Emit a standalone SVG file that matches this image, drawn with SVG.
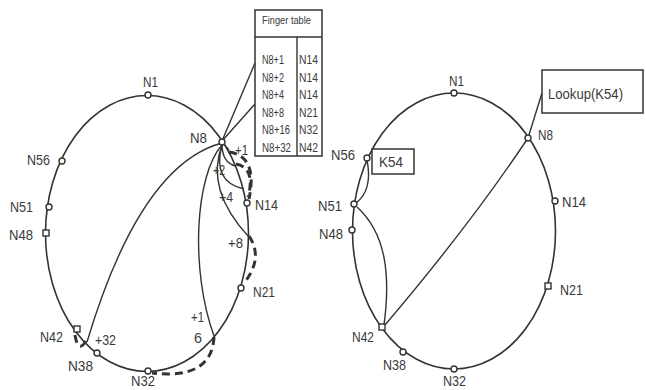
<svg xmlns="http://www.w3.org/2000/svg" width="646" height="390" viewBox="0 0 646 390">
<style>
.ring{fill:none;stroke:#333;stroke-width:1.6}
.ch{fill:none;stroke:#333;stroke-width:1.4}
.dash{fill:none;stroke:#333;stroke-width:3;stroke-dasharray:8 5}
.mk{fill:#fff;stroke:#333;stroke-width:1.4}
.lbl{font-family:"Liberation Sans",Arial,sans-serif;font-size:15px;fill:#3a3a3a}
.tt{font-family:"Liberation Sans",Arial,sans-serif;font-size:12px;fill:#3a3a3a}
.th{font-family:"Liberation Sans",Arial,sans-serif;font-size:10px;fill:#3a3a3a}
.box{fill:#fff;stroke:#333;stroke-width:1.5}
</style>
<rect width="646" height="390" fill="#fff"/>
<g id="rings">
<ellipse class="ring" cx="147" cy="233.5" rx="101.5" ry="138"/>
<ellipse class="ring" cx="454" cy="231" rx="101.5" ry="138"/>
</g>
<g id="connectors">
<line class="ch" x1="222" y1="141" x2="255" y2="63"/>
<line class="ch" x1="222" y1="141" x2="255" y2="104"/>
<path class="ch" d="M222,143 Q140,165 87,342"/>
<path class="ch" d="M222,145 C195,175 190,270 214,336"/>
<path class="ch" d="M222,145 Q205,190 249,237"/>
<path class="ch" d="M222,145 Q212,182 244,189"/>
<path class="ch" d="M222,144 Q222,163 236,166"/>
<path class="ch" d="M222,142 L229,150"/>
<path class="dash" d="M229,152 Q258,156 249,199"/>
<path class="dash" d="M236,164 Q256,168 248,197"/>
<path class="dash" d="M249,236 Q264,258 244,283"/>
<path class="dash" d="M214,337 Q212,380 152,373"/>
<path class="dash" stroke-dasharray="6 3" d="M86,341 Q78,354 75,335"/>
<line class="ch" x1="542" y1="93" x2="528" y2="138"/>
<path class="ch" d="M528,138 Q470,225 385,325"/>
<path class="ch" d="M384,325 C390,280 388,235 357,207"/>
<path class="ch" d="M356,203 Q373,190 367,160"/>
</g>
<g id="finger-table">
<rect class="box" x="255" y="10" width="67" height="146"/>
<line class="ch" x1="255" y1="37" x2="322" y2="37"/>
<line class="ch" x1="297" y1="37" x2="297" y2="156"/>
<text class="th" x="262" y="24" textLength="49" lengthAdjust="spacingAndGlyphs">Finger table</text>
<text class="tt" x="262" y="64" textLength="22" lengthAdjust="spacingAndGlyphs">N8+1</text>
<text class="tt" x="262" y="81.5" textLength="22" lengthAdjust="spacingAndGlyphs">N8+2</text>
<text class="tt" x="262" y="99" textLength="22" lengthAdjust="spacingAndGlyphs">N8+4</text>
<text class="tt" x="262" y="116.5" textLength="22" lengthAdjust="spacingAndGlyphs">N8+8</text>
<text class="tt" x="262" y="134" textLength="28" lengthAdjust="spacingAndGlyphs">N8+16</text>
<text class="tt" x="262" y="151.5" textLength="29" lengthAdjust="spacingAndGlyphs">N8+32</text>
<text class="tt" x="299" y="64" textLength="19" lengthAdjust="spacingAndGlyphs">N14</text>
<text class="tt" x="299" y="81.5" textLength="19" lengthAdjust="spacingAndGlyphs">N14</text>
<text class="tt" x="299" y="99" textLength="19" lengthAdjust="spacingAndGlyphs">N14</text>
<text class="tt" x="299" y="116.5" textLength="19" lengthAdjust="spacingAndGlyphs">N21</text>
<text class="tt" x="299" y="134" textLength="19" lengthAdjust="spacingAndGlyphs">N32</text>
<text class="tt" x="299" y="151.5" textLength="19" lengthAdjust="spacingAndGlyphs">N42</text>
</g>
<g id="finger-labels">
<text class="lbl" x="235" y="155" textLength="13" lengthAdjust="spacingAndGlyphs">+1</text>
<text class="lbl" x="213" y="175" textLength="12" lengthAdjust="spacingAndGlyphs">+2</text>
<text class="lbl" x="219" y="202" textLength="14" lengthAdjust="spacingAndGlyphs">+4</text>
<text class="lbl" x="228" y="248" textLength="15" lengthAdjust="spacingAndGlyphs">+8</text>
<text class="lbl" x="191" y="322" textLength="13" lengthAdjust="spacingAndGlyphs">+1</text>
<text class="lbl" x="194" y="343" textLength="8" lengthAdjust="spacingAndGlyphs">6</text>
<text class="lbl" x="95" y="345" textLength="21" lengthAdjust="spacingAndGlyphs">+32</text>
</g>
<g id="L-N1"><circle class="mk" cx="148" cy="95" r="3"/><text class="lbl" x="143" y="87" textLength="15" lengthAdjust="spacingAndGlyphs">N1</text></g>
<g id="L-N8"><circle class="mk" cx="222" cy="142" r="3"/><text class="lbl" x="190" y="143" textLength="17" lengthAdjust="spacingAndGlyphs">N8</text></g>
<g id="L-N14"><circle class="mk" cx="247" cy="203" r="3"/><text class="lbl" x="255" y="210" textLength="23" lengthAdjust="spacingAndGlyphs">N14</text></g>
<g id="L-N21"><circle class="mk" cx="241" cy="288" r="3"/><text class="lbl" x="253" y="297" textLength="22" lengthAdjust="spacingAndGlyphs">N21</text></g>
<g id="L-N32"><circle class="mk" cx="148" cy="371" r="3"/><text class="lbl" x="131" y="386" textLength="24" lengthAdjust="spacingAndGlyphs">N32</text></g>
<g id="L-N38"><circle class="mk" cx="97" cy="353" r="3"/><text class="lbl" x="68" y="371" textLength="25" lengthAdjust="spacingAndGlyphs">N38</text></g>
<g id="L-N42"><rect class="mk" x="74" y="326" width="6" height="6"/><text class="lbl" x="40" y="342" textLength="23" lengthAdjust="spacingAndGlyphs">N42</text></g>
<g id="L-N48"><rect class="mk" x="43" y="230" width="6" height="6"/><text class="lbl" x="9" y="240" textLength="24" lengthAdjust="spacingAndGlyphs">N48</text></g>
<g id="L-N51"><circle class="mk" cx="49" cy="207" r="3"/><text class="lbl" x="10" y="212" textLength="23" lengthAdjust="spacingAndGlyphs">N51</text></g>
<g id="L-N56"><circle class="mk" cx="62" cy="161" r="3"/><text class="lbl" x="27" y="165" textLength="23" lengthAdjust="spacingAndGlyphs">N56</text></g>
<g id="R-N1"><circle class="mk" cx="454" cy="93" r="3"/><text class="lbl" x="449" y="86" textLength="15" lengthAdjust="spacingAndGlyphs">N1</text></g>
<g id="R-N8"><circle class="mk" cx="528" cy="138" r="3"/><text class="lbl" x="538" y="140" textLength="15" lengthAdjust="spacingAndGlyphs">N8</text></g>
<g id="R-N14"><circle class="mk" cx="555" cy="201" r="3" stroke-width="2.2"/><text class="lbl" x="562" y="207" textLength="24" lengthAdjust="spacingAndGlyphs">N14</text></g>
<g id="R-N21"><rect class="mk" x="545" y="283" width="6" height="6"/><text class="lbl" x="560" y="295" textLength="23" lengthAdjust="spacingAndGlyphs">N21</text></g>
<g id="R-N32"><circle class="mk" cx="454" cy="369" r="3"/><text class="lbl" x="443" y="386" textLength="23" lengthAdjust="spacingAndGlyphs">N32</text></g>
<g id="R-N38"><circle class="mk" cx="403" cy="352" r="3"/><text class="lbl" x="383" y="370" textLength="23" lengthAdjust="spacingAndGlyphs">N38</text></g>
<g id="R-N42"><rect class="mk" x="379" y="324" width="6" height="6"/><text class="lbl" x="352" y="342" textLength="22" lengthAdjust="spacingAndGlyphs">N42</text></g>
<g id="R-N48"><circle class="mk" cx="352" cy="230" r="3"/><text class="lbl" x="319" y="239" textLength="24" lengthAdjust="spacingAndGlyphs">N48</text></g>
<g id="R-N51"><circle class="mk" cx="354" cy="204" r="3"/><text class="lbl" x="318" y="211" textLength="24" lengthAdjust="spacingAndGlyphs">N51</text></g>
<g id="R-N56"><circle class="mk" cx="367" cy="158" r="3"/><text class="lbl" x="331" y="160" textLength="24" lengthAdjust="spacingAndGlyphs">N56</text></g>
<g id="K54"><rect class="box" x="372" y="149" width="42" height="25" stroke-width="2"/><text class="lbl" x="379" y="167" textLength="24" lengthAdjust="spacingAndGlyphs">K54</text></g>
<g id="lookup"><rect class="box" x="542" y="70" width="101" height="43"/><text class="lbl" x="548" y="99" textLength="75" lengthAdjust="spacingAndGlyphs">Lookup(K54)</text></g>
</svg>
